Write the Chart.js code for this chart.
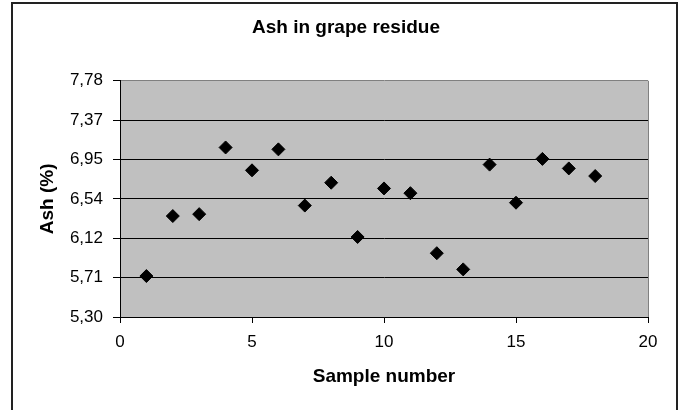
<!DOCTYPE html>
<html>
<head>
<meta charset="utf-8">
<script src="https://cdn.jsdelivr.net/npm/chart.js@4"></script>
<style>
  body { margin: 0; background: #fff; }
  #wrap { position: relative; width: 685px; height: 410px; overflow: hidden; }
  #frame {
    position: absolute; left: 11px; top: 2px; width: 663px; height: 430px;
    border: 2px solid #222; border-bottom: none; pointer-events: none;
  }
</style>
</head>
<body>
<div id="wrap">
  <canvas id="grafica" width="685" height="410"></canvas>
  <div id="frame"></div>
</div>
<script>
// sample numbers and ash content (%)
var muestras = [1, 2, 3, 4, 5, 6, 7, 8, 9, 10, 11, 12, 13, 14, 15, 16, 17, 18];
var ceniza = [5.73, 6.36, 6.38, 7.08, 6.84, 7.06, 6.47, 6.71, 6.14, 6.65, 6.60, 5.97, 5.80, 6.90, 6.50, 6.96, 6.86, 6.78];

// y axis limits and its tick labels
var yMin = 5.30;
var yMax = 7.78;
var yEtiquetas = ['5,30', '5,71', '6,12', '6,54', '6,95', '7,37', '7,78'];

var fuente = "'Liberation Sans', Arial, sans-serif";

// grey plot background plus the grey right edge
var fondoGrafica = {
	id: 'fondoGrafica',
	beforeDraw: function(chart) {
		var ctx = chart.ctx, a = chart.chartArea;
		ctx.save();
		ctx.fillStyle = '#c0c0c0';
		ctx.fillRect(a.left, a.top, a.right - a.left, a.bottom - a.top);
		ctx.restore();
	},
	beforeDatasetsDraw: function(chart) {
		var ctx = chart.ctx, a = chart.chartArea;
		var x = Math.round(a.right) + 0.5;
		ctx.save();
		ctx.strokeStyle = '#808080';
		ctx.lineWidth = 1;
		ctx.beginPath();
		ctx.moveTo(x, a.top);
		ctx.lineTo(x, a.bottom);
		ctx.stroke();
		ctx.restore();
	}
};

var puntos = muestras.map(function(m, i) { return {x: m, y: ceniza[i]}; });

var ctx = document.getElementById('grafica').getContext('2d');
var chart = new Chart(ctx, {
	type: 'scatter',
	data: {
		datasets: [{
			label: 'Ash',
			data: puntos,
			pointStyle: 'rectRot',
			pointRadius: 6.5,
			pointHoverRadius: 6.5,
			backgroundColor: '#000',
			borderColor: '#000',
			borderWidth: 1
		}]
	},
	options: {
		responsive: false,
		animation: false,
		layout: {
			padding: {left: 44, right: 37, top: 0, bottom: 0}
		},
		plugins: {
			legend: { display: false },
			tooltip: { enabled: false },
			title: {
				display: true,
				text: 'Ash in grape residue',
				color: '#000',
				font: { family: fuente, size: 19, weight: 'bold' },
				padding: { top: 16, bottom: 42 }
			}
		},
		scales: {
			x: {
				type: 'linear',
				min: 0,
				max: 20,
				afterFit: function(s) { s.height = 93; },
				ticks: {
					stepSize: 5,
					color: '#000',
					padding: 9,
					font: { family: fuente, size: 17 }
				},
				grid: {
					drawOnChartArea: false,
					tickLength: 6,
					tickColor: '#000'
				},
				border: { color: '#000', width: 1 },
				title: {
					display: true,
					text: 'Sample number',
					color: '#000',
					font: { family: fuente, size: 19, weight: 'bold' },
					padding: { top: 0, bottom: 22 }
				}
			},
			y: {
				type: 'linear',
				min: yMin,
				max: yMax,
				afterFit: function(s) { s.width = 76; },
				afterBuildTicks: function(s) {
					s.ticks = yEtiquetas.map(function(_, i) {
						return { value: yMin + i * (yMax - yMin) / (yEtiquetas.length - 1) };
					});
				},
				ticks: {
					color: '#000',
					padding: 10,
					font: { family: fuente, size: 17 },
					callback: function(v, i) { return yEtiquetas[i]; }
				},
				grid: {
					color: function(c) { return c.index === yEtiquetas.length - 1 ? '#808080' : '#000'; },
					lineWidth: 1,
					tickLength: 7,
					tickColor: '#000'
				},
				border: { color: '#000', width: 1 },
				title: {
					display: true,
					text: 'Ash (%)',
					color: '#000',
					font: { family: fuente, size: 19, weight: 'bold' },
					padding: { top: -8, bottom: 0 }
				}
			}
		}
	},
	plugins: [fondoGrafica]
});
</script>
</body>
</html>
